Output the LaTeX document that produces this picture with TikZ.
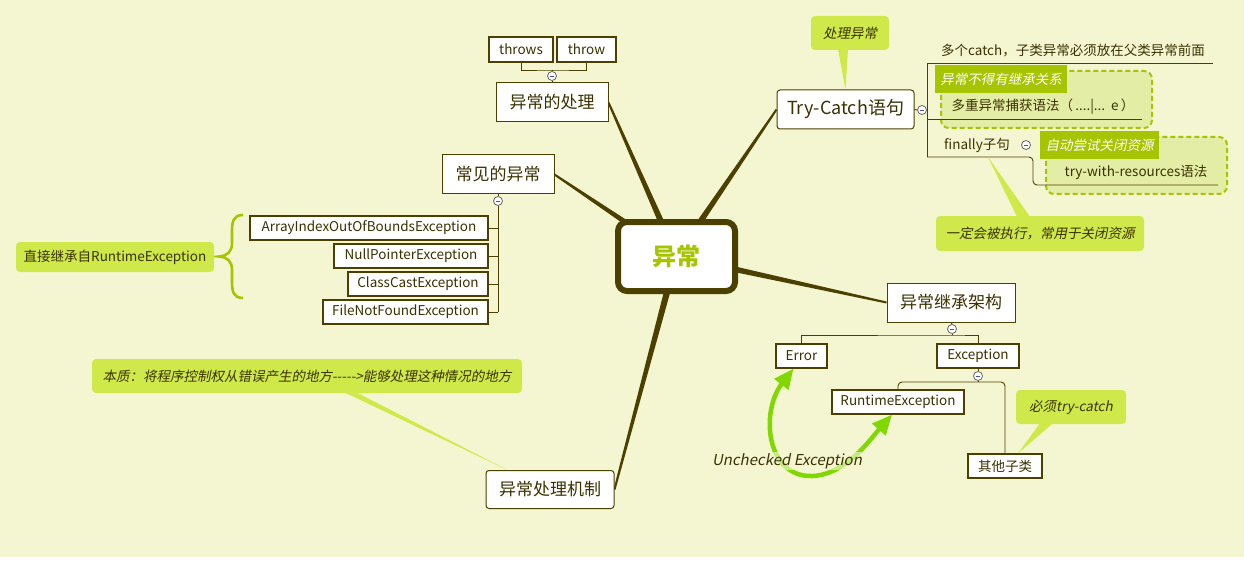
\documentclass[tikz,border=0pt]{standalone}
\usepackage{fontspec}
\setmainfont{Noto Sans CJK SC}
\newfontfamily\slfont[FakeSlant=0.2]{Noto Sans CJK SC}
\usetikzlibrary{arrows.meta,calc,positioning}
\definecolor{paper}{HTML}{F4F6D2}
\definecolor{ink}{HTML}{4B4000}
\definecolor{txt}{HTML}{3A3200}
\definecolor{lime}{HTML}{CFE84A}
\definecolor{tagc}{HTML}{A6C400}
\definecolor{zonec}{HTML}{E3EDA6}
\definecolor{arrowc}{HTML}{80D800}
\pgfdeclarelayer{back}
\pgfdeclarelayer{bg}
\pgfsetlayers{back,bg,main}
\newcommand{\fsz}[1]{\fontsize{#1}{#1}\selectfont}
\newcommand{\branch}[3]{\fill[ink] ($(#1)!#3!90:(#2)$) -- ($(#2)!1pt!-90:(#1)$) -- ($(#2)!1pt!90:(#1)$) -- ($(#1)!#3!-90:(#2)$) -- cycle;}
\tikzset{
  hub/.style={draw=ink, line width=6pt, fill=white, rounded corners=9pt, minimum width=117, minimum height=69, text=tagc, font=\fsz{24}\bfseries},
  topic/.style={draw=ink, line width=1pt, fill=white, minimum height=39, inner sep=2pt, text=txt, font=\fsz{17}},
  leaf/.style={draw=ink, line width=1.2pt, fill=white, minimum height=24, inner sep=2pt, text=txt, font=\fsz{13.5}},
  plain/.style={inner sep=1pt, text=txt, font=\fsz{13.5}},
  callout/.style={fill=lime, rounded corners=4pt, minimum height=34, inner sep=2pt, text=txt, font=\fsz{13.5}\slfont},
  tagbox/.style={fill=tagc, minimum height=28, inner sep=2pt, text=white, font=\fsz{13.5}\slfont},
  zone/.style={draw=tagc, fill=zonec, line width=2pt, dash pattern=on 5pt off 3pt, rounded corners=8pt},
  twig/.style={draw=ink, line width=0.9pt},
  fold/.style={circle, draw=gray!80!black, fill=white, line width=0.8pt, inner sep=0pt, minimum size=9,
    path picture={\draw[blue!40!gray, line width=0.8pt] ([xshift=-2.4pt]path picture bounding box.center) -- ([xshift=2.4pt]path picture bounding box.center);}},
  greenarrow/.style={draw=arrowc, line width=4.5pt, {Triangle[length=20pt,width=17pt]}-{Triangle[length=20pt,width=17pt]}}
}
\begin{document}
\begin{tikzpicture}[x=1pt,y=-1pt]
\useasboundingbox (0,0) rectangle (1244,572);
\begin{pgfonlayer}{back}
\fill[paper] (0,0) rectangle (1244,557);
\end{pgfonlayer}

% centre and main topics
\node[hub] (root) at (676.5,256.5) {异常};
\node[topic, minimum width=112] (deal) at (552,102.5) {异常的处理};
\node[topic, minimum width=112] (common) at (498,174.5) {常见的异常};
\node[topic, minimum width=137, rounded corners=3pt, font=\fsz{18}] (tc) at (845.5,109.5) {Try-Catch语句};
\node[topic, minimum width=128] (arch) at (951,302.5) {异常继承架构};
\node[topic, minimum width=128, minimum height=38, rounded corners=3pt] (mech) at (550,489.5) {异常处理机制};

\begin{pgfonlayer}{bg}
\branch{root.center}{deal.east}{3.5pt}
\branch{root.center}{common.east}{3.5pt}
\branch{root.center}{tc.west}{3.5pt}
\branch{root.center}{arch.west}{3.5pt}
\branch{root.center}{mech.east}{3.5pt}
\end{pgfonlayer}

% throws / throw
\node[leaf, minimum width=64, minimum height=25] (throws) at (521,49.5) {throws};
\node[leaf, minimum width=59, minimum height=25] (throw) at (586.5,49.5) {throw};
\node[fold] (f1) at (552,76) {};
\coordinate (j1) at (552,70);
\draw[twig] (throws.south) |- (j1) -| (throw.south);
\draw[twig] (j1) -- (f1.north);
\draw[twig] (f1.south) -- (deal.north);

% common exceptions
\node[leaf, minimum width=238] (arr) at (369,228) {ArrayIndexOutOfBoundsException};
\node[leaf, minimum width=154] (npe) at (411,256) {NullPointerException};
\node[leaf, minimum width=140] (cce) at (418,284) {ClassCastException};
\node[leaf, minimum width=165] (fnf) at (405.5,312) {FileNotFoundException};
\node[fold] (f2) at (498,201) {};
\draw[twig] (common.south) -- (f2.north);
\draw[twig] (f2.south) -- (f2 |- fnf.east);
\foreach \n in {arr,npe,cce,fnf}
  \draw[twig] (\n.east) -- (\n.east -| f2);
\draw[tagc, line width=2.6pt] (243,215) .. controls (233,215) and (232,222) .. (232,232) -- (232,243)
  .. controls (232,252) and (227,256) .. (219,256.5) .. controls (227,257) and (232,261) .. (232,270)
  -- (232,281) .. controls (232,291) and (233,298) .. (243,298);
\node[callout, font=\fsz{13.5}, minimum width=198, minimum height=30] (direct) at (115,257) {直接继承自RuntimeException};

% try-catch
\node[fold] (f3) at (922,110) {};
\coordinate (k0) at (927,63);
\coordinate (k1) at (927,119);
\coordinate (k2) at (927,157);
\draw[twig] (tc.east) -- (f3.west);
\draw[twig] (f3.east) -- (f3.east -| k0);
\draw[twig] (1213,63) -- (k0) -- (k2);
\draw[zone] (941,71) rectangle (1152,128);
\draw[zone] (1046,137) rectangle (1227,194);
\draw[twig] (k1) -- (1142,119);
\draw[twig, rounded corners=4pt] (k2) -- (1033,157) -- (1033,185) -- (1218,185);
\node[plain] (multi) at (1073,51) {多个catch，子类异常必须放在父类异常前面};
\node[plain] (multicatch) at (1043,107) {多重异常捕获语法（\,....|...\ \ e\,）};
\node[plain] (fin) at (977,145) {finally子句};
\node[fold] (f6) at (1026,145) {};
\node[plain] (twr) at (1136,172) {try-with-resources语法};
\node[tagbox, minimum width=132] (tag1) at (1001,79) {异常不得有继承关系};
\node[tagbox, minimum width=119] (tag2) at (1099.5,145) {自动尝试关闭资源};

\node[callout, minimum width=78] (c1) at (850,33) {处理异常};
\fill[lime] ($(c1.south)+(-12,-1)$) -- (tc.north) -- ($(c1.south)+(-2,-1)$) -- cycle;
\coordinate (finend) at (988,157);
\node[callout, minimum width=208, minimum height=35] (c2) at (1040,233.5) {一定会被执行，常用于关闭资源};
\fill[lime] ($(c2.north)+(-23,1)$) -- (finend) -- ($(c2.north)+(-10,1)$) -- cycle;

% inheritance
\node[leaf, minimum width=51] (err) at (801.5,356) {Error};
\node[leaf, minimum width=82] (exc) at (978,356) {Exception};
\node[leaf, minimum width=132] (rte) at (898,402) {RuntimeException};
\node[leaf, minimum width=74] (other) at (1005,466) {其他子类};
\node[fold] (f4) at (952,329) {};
\coordinate (j4) at (952,335);
\draw[twig] (arch.south) -- (f4.north);
\draw[twig] (f4.south) -- (j4);
\draw[twig] (err.north) |- (j4) -| (exc.north);
\node[fold] (f5) at (978,376) {};
\coordinate (j5) at (978,382);
\draw[twig] (exc.south) -- (f5.north);
\draw[twig] (f5.south) -- (j5);
\draw[twig, rounded corners=4pt] (rte.north) |- (j5) -| (other.north);
\draw[greenarrow] ([xshift=-8pt]err.south) .. controls (760,412) and (766,478) .. (813,476)
  .. controls (846,474) and (868,442) .. ([xshift=-6pt]rte.south);
\node[text=txt, font=\fsz{15}\slfont, fill=paper, fill opacity=0.6, text opacity=1, inner sep=1pt] (unchecked) at (787,461) {Unchecked Exception};
\node[callout, minimum width=110] (c3) at (1071,407) {必须try-catch};
\fill[lime] ($(c3.south)+(-31,-1)$) -- ($(other.north)+(13,0)$) -- ($(c3.south)+(-18,-1)$) -- cycle;

% mechanism
\node[callout, minimum width=430] (c4) at (307,376) {本质：将程序控制权从错误产生的地方----->能够处理这种情况的地方};
\fill[lime] ($(c4.south)+(37,-1)$) -- ($(mech.north west)+(22,0)$) -- ($(c4.south)+(49,-1)$) -- cycle;
\end{tikzpicture}
\end{document}
